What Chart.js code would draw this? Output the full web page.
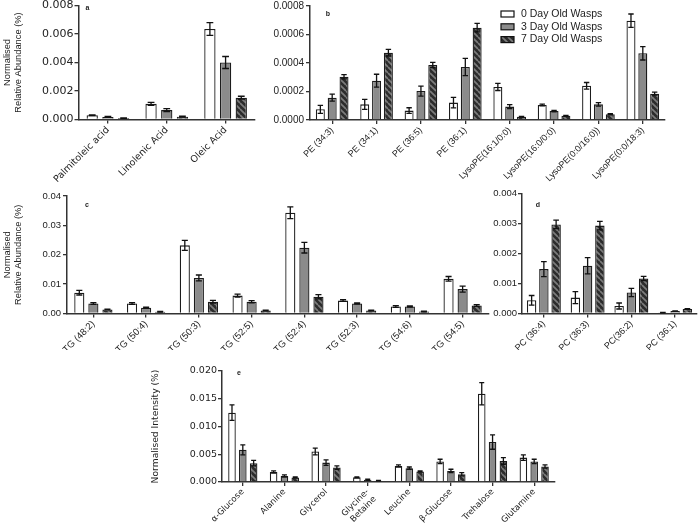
<!DOCTYPE html>
<html><head><meta charset="utf-8">
<script src="https://cdn.jsdelivr.net/npm/chart.js@4.4.1/dist/chart.umd.min.js"></script>
<style>
html,body{margin:0;padding:0;background:#fff;}
body{width:700px;height:529px;overflow:hidden;position:relative;}
canvas{position:absolute;}
</style></head><body>
<canvas id="pa"></canvas><canvas id="pb"></canvas><canvas id="pc"></canvas><canvas id="pd"></canvas><canvas id="pe"></canvas>
<script>
// ---------------- DATA ----------------
const SERIES_LABELS = ['0 Day Old Wasps', '3 Day Old Wasps', '7 Day Old Wasps'];

// Panel a
const A_CATS = ['Palmitoleic acid', 'Linolenic Acid', 'Oleic Acid'];
const A_DAY0 = [0.0003, 0.0011, 0.00635];
const A_DAY0_ERR = [0.00003, 0.0001, 0.00045];
const A_DAY3 = [0.00018, 0.00066, 0.0040];
const A_DAY3_ERR = [0.00003, 0.0001, 0.00042];
const A_DAY7 = [0.0001, 0.0002, 0.00153];
const A_DAY7_ERR = [0.00002, 0.00004, 0.0001];
const A_TICKS = ['0.000', '0.002', '0.004', '0.006', '0.008'];

// Panel b
const B_CATS = ['PE (34:3)', 'PE (34:1)', 'PE (36:5)', 'PE (36:1)', 'LysoPE(16:1/0:0)', 'LysoPE(16:0/0:0)', 'LysoPE(0:0/16:0))', 'LysoPE(0:0/18:3)'];
const B_DAY0 = [0.000075, 0.00011, 0.000066, 0.000122, 0.000232, 0.000105, 0.00024, 0.000697];
const B_DAY0_ERR = [0.000028, 0.000035, 0.00002, 0.000037, 0.000025, 0.000006, 0.000023, 0.000047];
const B_DAY3 = [0.000157, 0.000276, 0.000203, 0.000372, 0.000094, 0.000063, 0.00011, 0.000468];
const B_DAY3_ERR = [0.000025, 0.000045, 0.000035, 0.00006, 0.000014, 0.000005, 0.000012, 0.000047];
const B_DAY7 = [0.000304, 0.000472, 0.000386, 0.000648, 0.000023, 0.00003, 0.00004, 0.000185];
const B_DAY7_ERR = [0.000015, 0.000023, 0.000019, 0.00003, 0.000003, 0.000003, 0.000004, 0.00001];
const B_TICKS = ['0.0000', '0.0002', '0.0004', '0.0006', '0.0008'];

// Panel c
const C_CATS = ['TG (48:2)', 'TG (50:4)', 'TG (50:3)', 'TG (52:5)', 'TG (52:4)', 'TG (52:3)', 'TG (54:6)', 'TG (54:5)'];
const C_DAY0 = [0.0071, 0.0034, 0.0232, 0.0061, 0.0343, 0.0044, 0.0024, 0.0118];
const C_DAY0_ERR = [0.0008, 0.0003, 0.0017, 0.0005, 0.002, 0.0003, 0.0003, 0.0008];
const C_DAY3 = [0.0034, 0.002, 0.0121, 0.004, 0.0224, 0.0034, 0.0024, 0.0083];
const C_DAY3_ERR = [0.0003, 0.0002, 0.001, 0.0004, 0.0018, 0.0002, 0.0002, 0.001];
const C_DAY7 = [0.0014, 0.0006, 0.004, 0.001, 0.0057, 0.001, 0.0007, 0.0027];
const C_DAY7_ERR = [0.0001, 0.0001, 0.0005, 0.0001, 0.0007, 0.0001, 0.0001, 0.0003];
const C_TICKS = ['0.00', '0.01', '0.02', '0.03', '0.04'];

// Panel d
const D_CATS = ['PC (36:4)', 'PC (36:3)', 'PC(36:2)', 'PC (36:1)'];
const D_DAY0 = [0.00044, 0.00053, 0.00025, 0.00003];
const D_DAY0_ERR = [0.00016, 0.0002, 0.0001, 0.000005];
const D_DAY3 = [0.00148, 0.00159, 0.0007, 0.00008];
const D_DAY3_ERR = [0.00025, 0.00027, 0.00014, 0.00001];
const D_DAY7 = [0.00297, 0.00293, 0.00117, 0.00015];
const D_DAY7_ERR = [0.00014, 0.00014, 0.00007, 0.00001];
const D_TICKS = ['0.000', '0.001', '0.002', '0.003', '0.004'];

// Panel e
const E_CATS = ['α-Glucose', 'Alanine', 'Glycerol', ['Glycine-', 'Betaine'], 'Leucine', 'β-Glucose', 'Trehalose', 'Glutamine'];
const E_DAY0 = [0.0125, 0.0018, 0.0055, 0.00084, 0.0029, 0.0037, 0.0159, 0.0044];
const E_DAY0_ERR = [0.0014, 0.0002, 0.0006, 0.0001, 0.0002, 0.0004, 0.002, 0.0005];
const E_DAY3 = [0.0058, 0.0011, 0.0035, 0.0004, 0.0025, 0.002, 0.0072, 0.0037];
const E_DAY3_ERR = [0.0009, 0.0002, 0.0005, 0.0001, 0.0002, 0.0003, 0.0013, 0.0004];
const E_DAY7 = [0.0034, 0.0008, 0.0026, 0.00024, 0.0019, 0.0014, 0.0038, 0.0028];
const E_DAY7_ERR = [0.0005, 0.0001, 0.0003, 0.00005, 0.0001, 0.0003, 0.0006, 0.0003];
const E_TICKS = ['0.000', '0.005', '0.010', '0.015', '0.020'];

const TITLE_AC = ['Normalised', 'Relative Abundance (%)'];
const TITLE_E = 'Normalised Intensity (%)';

// ---------------- STYLE ----------------
const ARIAL = "'Liberation Sans', Arial, sans-serif";
const DEJAVU = "'DejaVu Sans', Verdana, sans-serif";
const INK = '#222';
const AXIS = '#333';

function makeHatch() {
  const c = document.createElement('canvas');
  c.width = 6; c.height = 6;
  const x = c.getContext('2d');
  x.fillStyle = '#2c2c2c'; x.fillRect(0, 0, 6, 6);
  x.strokeStyle = '#7c7c7c'; x.lineWidth = 1.7;
  for (const o of [-6, 0, 6]) { x.beginPath(); x.moveTo(o, 0); x.lineTo(o + 6, 6); x.stroke(); }
  return x.createPattern(c, 'repeat');
}
const FILLS = ['#ffffff', '#8b8b8b', makeHatch()];

const errPlugin = {
  id: 'errbars',
  afterDatasetsDraw(chart) {
    const ctx = chart.ctx, ys = chart.scales.y;
    ctx.save();
    ctx.strokeStyle = '#111'; ctx.lineWidth = 1.3;
    chart.data.datasets.forEach((ds, i) => {
      const meta = chart.getDatasetMeta(i);
      meta.data.forEach((el, j) => {
        const v = ds.data[j], e = ds.errors[j];
        const t = ys.getPixelForValue(v + e), b = ys.getPixelForValue(Math.max(0, v - e));
        const hw = Math.max(2.5, el.width * 0.3);
        ctx.beginPath();
        ctx.moveTo(el.x, t); ctx.lineTo(el.x, b);
        ctx.moveTo(el.x - hw, t); ctx.lineTo(el.x + hw, t);
        ctx.moveTo(el.x - hw, b); ctx.lineTo(el.x + hw, b);
        ctx.stroke();
      });
    });
    ctx.restore();
  }
};

const letterPlugin = {
  id: 'letter',
  afterDraw(chart, args, opts) {
    if (!opts || !opts.text) return;
    const ctx = chart.ctx, ca = chart.chartArea;
    ctx.save();
    ctx.fillStyle = INK; ctx.font = "bold 7px " + ARIAL;
    ctx.textAlign = 'center'; ctx.textBaseline = 'middle';
    ctx.fillText(opts.text, ca.left + opts.dx, ca.top + opts.dy);
    ctx.restore();
  }
};

const legendPlugin = {
  id: 'boxlegend',
  afterDraw(chart, args, opts) {
    if (!opts || !opts.show) return;
    const ctx = chart.ctx, ca = chart.chartArea;
    ctx.save();
    ctx.font = "10.5px " + ARIAL; ctx.textBaseline = 'middle'; ctx.textAlign = 'left';
    chart.data.datasets.forEach((ds, i) => {
      const bx = ca.left + opts.dx, by = ca.top + opts.dy + i * opts.step;
      ctx.fillStyle = ds.backgroundColor; ctx.fillRect(bx, by, 13, 6);
      ctx.strokeStyle = '#111'; ctx.lineWidth = 1.2; ctx.strokeRect(bx, by, 13, 6);
      ctx.fillStyle = INK;
      ctx.fillText(ds.label, bx + 20, by + 3);
    });
    ctx.restore();
  }
};

function panel(id, g, cats, vals, errs, ticks, f, extra) {
  const cv = document.getElementById(id);
  cv.width = g.width; cv.height = g.height;
  cv.style.left = g.left + 'px'; cv.style.top = g.top + 'px';
  cv.style.width = g.width + 'px'; cv.style.height = g.height + 'px';
  const yw = g.area.l - g.left, xh = g.top + g.height - g.area.b;
  new Chart(cv, {
    type: 'bar',
    data: {
      labels: cats,
      datasets: [0, 1, 2].map(i => ({
        label: SERIES_LABELS[i], data: vals[i], errors: errs[i],
        backgroundColor: FILLS[i], borderColor: '#1c1c1c', borderWidth: 1.3,
        categoryPercentage: f.cat || 0.8, barPercentage: f.bar || 0.72
      }))
    },
    options: {
      responsive: false, animation: false, devicePixelRatio: 1,
      layout: { padding: { top: g.area.t - g.top, right: g.left + g.width - g.area.r, left: 0, bottom: 0 } },
      plugins: {
        legend: { display: false }, tooltip: { enabled: false },
        letter: extra.letter,
        boxlegend: extra.legend || {}
      },
      scales: {
        x: {
          type: 'category', offset: true,
          afterFit(s) { s.height = xh; },
          grid: { display: true, offset: false, drawOnChartArea: false, tickLength: 4, color: AXIS, lineWidth: 1.3 },
          border: { display: true, color: AXIS, width: 1.5 },
          ticks: { autoSkip: false, minRotation: 45, maxRotation: 45, padding: 1, color: INK, font: { family: f.xfam, size: f.xsize } }
        },
        y: {
          min: 0, max: parseFloat(ticks[ticks.length - 1]),
          afterFit(s) { s.width = yw; },
          afterBuildTicks(s) { s.ticks = ticks.map(t => ({ value: parseFloat(t) })); },
          grid: { display: true, drawOnChartArea: false, tickLength: 4, color: AXIS, lineWidth: 1.3 },
          border: { display: true, color: AXIS, width: 1.5 },
          ticks: { padding: f.ypad || 1, color: INK, font: { family: f.yfam, size: f.ysize }, callback: (v, i) => ticks[i] },
          title: f.title ? { display: true, text: f.title, color: INK, font: { family: f.tfam, size: f.tsize, lineHeight: 1.15 }, padding: { top: 2, bottom: 0 } } : { display: false }
        }
      }
    },
    plugins: [errPlugin, letterPlugin, legendPlugin]
  });
}

panel('pa', { left: 0, top: -5, width: 262, height: 200, area: { l: 78.5, t: 5.5, r: 255, b: 119.5 } },
  A_CATS, [A_DAY0, A_DAY3, A_DAY7], [A_DAY0_ERR, A_DAY3_ERR, A_DAY7_ERR], A_TICKS,
  { xfam: DEJAVU, xsize: 9.5, yfam: DEJAVU, ysize: 11, title: TITLE_AC, tfam: ARIAL, tsize: 9.3 },
  { letter: { text: 'a', dx: 9, dy: 3 } });

panel('pb', { left: 262, top: -5, width: 438, height: 200, area: { l: 310, t: 6, r: 665, b: 120 } },
  B_CATS, [B_DAY0, B_DAY3, B_DAY7], [B_DAY0_ERR, B_DAY3_ERR, B_DAY7_ERR], B_TICKS,
  { xfam: ARIAL, xsize: 9, yfam: ARIAL, ysize: 10, ypad: 2, cat: 0.8, bar: 0.76 },
  { letter: { text: 'b', dx: 18, dy: 8 }, legend: { show: true, dx: 191, dy: 5, step: 12.8 } });

panel('pc', { left: 0, top: 185, width: 492, height: 165, area: { l: 67, t: 196, r: 489, b: 313.5 } },
  C_CATS, [C_DAY0, C_DAY3, C_DAY7], [C_DAY0_ERR, C_DAY3_ERR, C_DAY7_ERR], C_TICKS,
  { xfam: ARIAL, xsize: 9.5, yfam: ARIAL, ysize: 9.5, ypad: 2, title: TITLE_AC, tfam: ARIAL, tsize: 9.3 },
  { letter: { text: 'c', dx: 20, dy: 9 } });

panel('pd', { left: 492, top: 183, width: 208, height: 167, area: { l: 522, t: 193.5, r: 697, b: 313.5 } },
  D_CATS, [D_DAY0, D_DAY3, D_DAY7], [D_DAY0_ERR, D_DAY3_ERR, D_DAY7_ERR], D_TICKS,
  { xfam: ARIAL, xsize: 9, yfam: ARIAL, ysize: 9.5, ypad: 1, cat: 0.84, bar: 0.77 },
  { letter: { text: 'd', dx: 16, dy: 11.5 } });

panel('pe', { left: 148, top: 360, width: 420, height: 169, area: { l: 222, t: 371, r: 555, b: 482 } },
  E_CATS, [E_DAY0, E_DAY3, E_DAY7], [E_DAY0_ERR, E_DAY3_ERR, E_DAY7_ERR], E_TICKS,
  { xfam: DEJAVU, xsize: 8.5, yfam: DEJAVU, ysize: 9.5, ypad: 1, title: TITLE_E, tfam: DEJAVU, tsize: 9.2, cat: 0.78, bar: 0.7 },
  { letter: { text: 'e', dx: 17, dy: 2.5 } });
</script>
</body></html>
